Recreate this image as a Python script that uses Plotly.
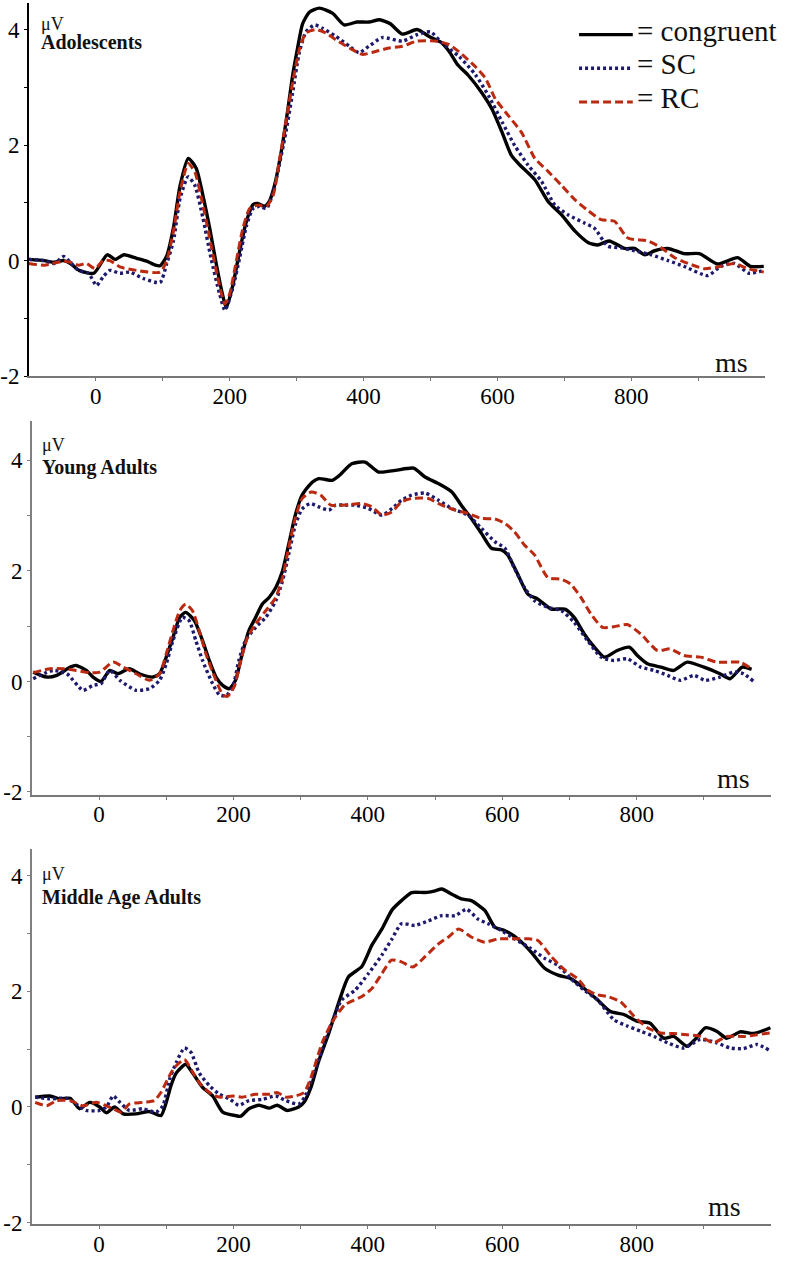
import plotly.graph_objects as go

# ---------------- data (time in ms, amplitude in microvolts) ----------------
# Adolescents
adol_cong_t = [-100, -77, -62, -48, -38, -25, -3, 17, 29, 42, 61, 76, 89, 96, 106, 116, 126, 138, 150, 160, 170, 180, 188, 195, 205, 215, 225, 235, 242, 252, 259, 267, 277, 287, 294, 301, 309, 319, 334, 354, 371, 390, 408, 424, 440, 458, 480, 498, 517, 528, 540, 557, 577, 592, 607, 621, 634, 656, 676, 696, 716, 736, 750, 767, 790, 805, 820, 835, 855, 879, 902, 929, 959, 978, 998]
adol_cong_v = [0.02, 0.0, -0.03, 0.0, -0.05, -0.17, -0.22, 0.1, 0.02, 0.1, 0.04, -0.01, -0.08, -0.09, 0.08, 0.57, 1.3, 1.77, 1.6, 1.13, 0.57, -0.06, -0.52, -0.82, -0.41, 0.17, 0.68, 0.97, 0.99, 0.94, 1.02, 1.3, 1.88, 2.62, 3.2, 3.65, 4.1, 4.3, 4.37, 4.28, 4.08, 4.13, 4.13, 4.17, 4.1, 3.92, 4.0, 3.88, 3.77, 3.62, 3.4, 3.2, 2.9, 2.62, 2.22, 1.82, 1.65, 1.4, 1.02, 0.79, 0.51, 0.31, 0.27, 0.34, 0.21, 0.21, 0.1, 0.17, 0.21, 0.12, 0.12, -0.06, 0.05, -0.1, -0.1]

adol_sc_t = [-100, -77, -62, -48, -38, -26, -11, 1, 11, 21, 36, 51, 71, 96, 106, 116, 126, 138, 148, 160, 172, 185, 193, 205, 215, 225, 235, 245, 255, 265, 274, 284, 294, 304, 314, 327, 339, 359, 379, 393, 408, 428, 458, 480, 500, 517, 543, 567, 587, 607, 626, 646, 666, 686, 706, 730, 745, 765, 785, 805, 830, 855, 879, 914, 934, 954, 976, 998]
adol_sc_v = [0.02, 0.0, -0.05, 0.07, -0.03, -0.17, -0.22, -0.43, -0.28, -0.17, -0.22, -0.2, -0.31, -0.38, -0.05, 0.34, 1.08, 1.45, 1.3, 0.74, 0.05, -0.58, -0.86, -0.46, 0.05, 0.6, 0.9, 0.94, 0.9, 1.18, 1.65, 2.22, 2.9, 3.6, 3.96, 4.08, 4.02, 3.88, 3.71, 3.6, 3.71, 3.86, 3.8, 3.91, 3.96, 3.77, 3.53, 3.22, 2.85, 2.4, 1.99, 1.65, 1.37, 0.96, 0.79, 0.65, 0.56, 0.25, 0.22, 0.17, 0.1, 0.0, -0.1, -0.26, -0.1, -0.05, -0.22, -0.17]

adol_rc_t = [-100, -77, -48, -38, -26, -14, -1, 11, 21, 36, 61, 96, 106, 116, 126, 138, 148, 160, 170, 182, 193, 200, 210, 220, 230, 242, 255, 265, 274, 284, 294, 304, 314, 329, 344, 359, 379, 398, 418, 438, 458, 480, 507, 528, 547, 567, 582, 597, 617, 636, 656, 676, 696, 716, 736, 755, 775, 795, 825, 845, 865, 885, 909, 934, 954, 974, 998]
adol_rc_v = [-0.05, -0.08, -0.01, -0.03, -0.08, -0.05, -0.14, 0.0, 0.0, -0.11, -0.17, -0.2, 0.0, 0.51, 1.2, 1.68, 1.53, 0.96, 0.4, -0.29, -0.75, -0.58, 0.0, 0.57, 0.9, 0.96, 0.94, 1.13, 1.71, 2.4, 3.08, 3.65, 3.94, 4.0, 3.94, 3.82, 3.68, 3.57, 3.62, 3.68, 3.71, 3.8, 3.8, 3.74, 3.57, 3.36, 3.16, 2.8, 2.5, 2.22, 1.77, 1.54, 1.3, 1.05, 0.86, 0.71, 0.68, 0.39, 0.34, 0.22, 0.05, -0.05, -0.14, -0.1, -0.05, -0.14, -0.2]

# Young adults
young_cong_t = [-98, -78, -63, -43, -34, -19, -9, 3, 16, 28, 45, 60, 80, 90, 100, 110, 120, 129, 142, 154, 164, 174, 184, 194, 203, 213, 223, 233, 243, 253, 263, 273, 282, 292, 302, 315, 327, 347, 357, 376, 396, 416, 441, 468, 485, 505, 525, 539, 554, 569, 584, 599, 608, 623, 638, 653, 673, 693, 707, 722, 737, 752, 771, 789, 801, 816, 836, 855, 875, 900, 924, 939, 957, 971]
young_cong_v = [0.17, 0.08, 0.11, 0.26, 0.29, 0.2, 0.08, 0.0, 0.2, 0.14, 0.23, 0.14, 0.08, 0.14, 0.44, 0.8, 1.16, 1.25, 1.1, 0.74, 0.38, 0.08, -0.07, -0.13, 0.02, 0.5, 0.92, 1.16, 1.4, 1.52, 1.7, 2.0, 2.47, 3.01, 3.37, 3.58, 3.67, 3.64, 3.72, 3.94, 3.97, 3.79, 3.82, 3.86, 3.7, 3.58, 3.43, 3.19, 2.95, 2.68, 2.41, 2.38, 2.29, 1.94, 1.58, 1.49, 1.31, 1.31, 1.16, 0.86, 0.62, 0.44, 0.56, 0.62, 0.47, 0.32, 0.26, 0.2, 0.35, 0.26, 0.14, 0.05, 0.26, 0.22]

young_sc_t = [-98, -68, -48, -24, -9, 3, 16, 31, 55, 75, 90, 100, 110, 124, 134, 144, 154, 169, 179, 189, 199, 208, 218, 233, 248, 263, 273, 282, 292, 302, 314, 327, 342, 352, 366, 381, 401, 421, 436, 450, 465, 485, 505, 525, 549, 569, 589, 604, 618, 633, 648, 668, 688, 707, 727, 747, 766, 786, 806, 826, 846, 865, 885, 902, 924, 944, 959, 974]
young_sc_v = [0.05, 0.2, 0.14, -0.16, -0.07, -0.04, 0.2, 0.02, -0.16, -0.13, 0.02, 0.32, 0.74, 1.16, 1.1, 0.74, 0.38, -0.04, -0.24, -0.26, -0.1, 0.38, 0.74, 0.98, 1.16, 1.46, 1.82, 2.29, 2.83, 3.12, 3.22, 3.16, 3.1, 3.19, 3.19, 3.19, 3.13, 3.01, 3.13, 3.28, 3.37, 3.41, 3.28, 3.13, 3.01, 2.77, 2.53, 2.41, 2.05, 1.7, 1.46, 1.34, 1.28, 1.07, 0.74, 0.44, 0.38, 0.41, 0.26, 0.2, 0.11, 0.02, 0.11, 0.02, 0.08, 0.17, 0.14, 0.0]

young_rc_t = [-98, -73, -53, -34, -14, 1, 21, 36, 55, 75, 90, 100, 110, 120, 129, 139, 149, 159, 174, 184, 191, 201, 211, 221, 233, 248, 263, 273, 282, 292, 302, 316, 330, 345, 371, 391, 406, 421, 436, 450, 465, 490, 510, 530, 549, 569, 589, 604, 618, 633, 648, 668, 688, 702, 717, 732, 749, 766, 786, 806, 831, 850, 870, 895, 919, 939, 954, 971]
young_rc_v = [0.16, 0.23, 0.23, 0.2, 0.16, 0.17, 0.35, 0.26, 0.14, 0.02, 0.14, 0.5, 0.92, 1.28, 1.4, 1.28, 0.92, 0.5, 0.02, -0.24, -0.27, -0.1, 0.38, 0.8, 1.04, 1.28, 1.52, 1.88, 2.41, 2.95, 3.31, 3.43, 3.37, 3.19, 3.2, 3.22, 3.16, 3.01, 3.07, 3.25, 3.31, 3.31, 3.19, 3.1, 3.04, 2.95, 2.94, 2.86, 2.71, 2.47, 2.29, 1.88, 1.85, 1.76, 1.52, 1.22, 0.98, 0.99, 1.03, 0.86, 0.56, 0.59, 0.47, 0.44, 0.35, 0.35, 0.35, 0.23]

# Middle age adults
mid_cong_t = [-95, -73, -58, -43, -29, -14, 1, 11, 23, 36, 55, 75, 92, 100, 107, 115, 129, 139, 154, 169, 184, 203, 211, 223, 238, 253, 265, 280, 297, 305, 315, 327, 342, 357, 371, 391, 406, 421, 436, 450, 465, 485, 500, 510, 525, 539, 554, 574, 589, 604, 623, 643, 663, 683, 702, 722, 742, 761, 781, 801, 820, 840, 855, 875, 887, 902, 919, 934, 954, 974, 999]
mid_cong_v = [0.17, 0.19, 0.14, 0.15, -0.03, 0.08, 0.0, -0.1, 0.0, -0.12, -0.12, -0.08, -0.15, 0.08, 0.37, 0.59, 0.74, 0.59, 0.34, 0.19, -0.09, -0.15, -0.16, -0.03, 0.03, -0.02, 0.03, -0.06, 0.0, 0.08, 0.33, 0.8, 1.28, 1.82, 2.25, 2.43, 2.8, 3.08, 3.41, 3.57, 3.71, 3.71, 3.74, 3.77, 3.68, 3.6, 3.57, 3.4, 3.11, 3.05, 2.91, 2.68, 2.4, 2.28, 2.22, 2.05, 1.85, 1.65, 1.6, 1.48, 1.45, 1.19, 1.22, 1.05, 1.17, 1.37, 1.31, 1.19, 1.3, 1.27, 1.37]

mid_sc_t = [-95, -73, -48, -34, -19, 1, 11, 21, 31, 45, 65, 85, 95, 105, 115, 127, 137, 149, 164, 179, 194, 208, 223, 243, 263, 278, 297, 307, 320, 332, 346, 361, 381, 401, 421, 436, 450, 470, 490, 510, 530, 547, 564, 579, 599, 618, 643, 663, 683, 702, 722, 742, 766, 786, 806, 826, 846, 870, 895, 919, 939, 959, 979, 999]
mid_sc_v = [0.17, 0.14, 0.15, 0.05, -0.06, -0.06, 0.0, 0.19, 0.08, -0.06, -0.03, -0.09, 0.02, 0.48, 0.77, 1.02, 0.94, 0.59, 0.37, 0.22, 0.14, 0.03, 0.11, 0.13, 0.19, 0.11, 0.05, 0.19, 0.59, 0.99, 1.45, 1.85, 2.02, 2.31, 2.63, 2.91, 3.17, 3.14, 3.22, 3.31, 3.31, 3.42, 3.25, 3.17, 3.05, 2.91, 2.74, 2.57, 2.45, 2.22, 2.02, 1.85, 1.51, 1.4, 1.31, 1.22, 1.11, 1.02, 1.17, 1.11, 1.02, 1.01, 1.08, 0.97]

mid_rc_t = [-95, -78, -63, -43, -24, -4, 11, 21, 33, 45, 65, 82, 92, 102, 112, 127, 137, 149, 164, 179, 199, 213, 233, 253, 265, 278, 292, 305, 315, 332, 346, 366, 391, 406, 421, 435, 450, 467, 485, 505, 520, 535, 554, 574, 594, 613, 638, 653, 673, 693, 712, 727, 742, 757, 776, 796, 816, 836, 855, 875, 895, 914, 934, 959, 979, 999]
mid_rc_v = [0.08, 0.02, 0.11, 0.11, 0.02, 0.08, 0.02, -0.03, -0.09, 0.05, 0.08, 0.11, 0.25, 0.48, 0.68, 0.82, 0.65, 0.42, 0.25, 0.17, 0.19, 0.17, 0.22, 0.22, 0.25, 0.17, 0.19, 0.25, 0.5, 1.11, 1.45, 1.77, 1.91, 2.05, 2.31, 2.54, 2.51, 2.42, 2.6, 2.82, 2.94, 3.08, 2.94, 2.85, 2.91, 2.91, 2.91, 2.88, 2.6, 2.37, 2.22, 2.02, 1.94, 1.91, 1.82, 1.57, 1.37, 1.28, 1.27, 1.25, 1.22, 1.11, 1.22, 1.22, 1.25, 1.28]

group_labels = ["Adolescents", "Young Adults", "Middle Age Adults"]
condition_names = ["= congruent", "= SC", "= RC"]
x_tick_vals = [0, 100, 200, 300, 400, 500, 600, 700, 800, 900]
x_tick_text = ["0", "", "200", "", "400", "", "600", "", "800", ""]
y_tick_vals = [-2, -1, 0, 1, 2, 3, 4]
y_tick_text = ["-2", "", "0", "", "2", "", "4"]

# ---------------- styling ----------------
W, H = 787, 1265
SERIF = "Liberation Serif, Times New Roman, serif"
COL_CONG = "#000000"
COL_SC = "#1d1a6e"
COL_RC = "#bb2a10"
styles = [
    dict(color=COL_CONG, width=3.4, dash="solid"),
    dict(color=COL_SC, width=3.4, dash="3px,3px"),
    dict(color=COL_RC, width=3.0, dash="8px,4px"),
]

def px_x(p):
    return p / W

def px_y(p):
    return 1 - p / H

panels = [
    dict(series=[(adol_cong_t, adol_cong_v), (adol_sc_t, adol_sc_v), (adol_rc_t, adol_rc_v)],
         xdom=(25, 765), ydom=(3, 380), yr=(-2.0, 4.46), ycol="#000000",
         uv=24, lab=42, labx=35, ms=(750, 366)),
    dict(series=[(young_cong_t, young_cong_v), (young_sc_t, young_sc_v), (young_rc_t, young_rc_v)],
         xdom=(28, 771), ydom=(425, 803), yr=(-2.05, 4.72), ycol="#808080",
         uv=450, lab=472, labx=36, ms=(752, 787)),
    dict(series=[(mid_cong_t, mid_cong_v), (mid_sc_t, mid_sc_v), (mid_rc_t, mid_rc_v)],
         xdom=(28, 771), ydom=(858, 1237), yr=(-2.03, 4.46), ycol="#808080",
         uv=883, lab=907, labx=36, ms=(743, 1219)),
]

fig = go.Figure()
annotations = []
shapes = []
layout_axes = {}

for i, p in enumerate(panels):
    n = "" if i == 0 else str(i + 1)
    xa, ya = "x" + n, "y" + n
    for (t, v), st in zip(p["series"], styles):
        fig.add_trace(go.Scatter(
            x=t, y=v, mode="lines", xaxis=xa, yaxis=ya,
            line=dict(color=st["color"], width=st["width"], dash=st["dash"],
                      shape="spline", smoothing=0.6),
            showlegend=False, hoverinfo="skip"))
    layout_axes["xaxis" + n] = dict(
        domain=[px_x(p["xdom"][0]), px_x(p["xdom"][1])], range=[-100, 1000],
        anchor=ya, showline=True, linecolor="#777777", linewidth=2,
        ticks="outside", ticklen=3, tickwidth=1, tickcolor="#777777",
        tickmode="array", tickvals=x_tick_vals, ticktext=x_tick_text,
        ticklabelstandoff=-5,
        tickfont=dict(family=SERIF, size=23, color="#000000"),
        showgrid=False, zeroline=False, fixedrange=True)
    layout_axes["yaxis" + n] = dict(
        domain=[px_y(p["ydom"][1]), px_y(p["ydom"][0])], range=list(p["yr"]),
        anchor=xa, showline=True, linecolor=p["ycol"], linewidth=1.5,
        ticks="outside", ticklen=3, tickwidth=1, tickcolor=p["ycol"],
        tickmode="array", tickvals=y_tick_vals, ticktext=y_tick_text,
        tickfont=dict(family=SERIF, size=23, color="#000000"),
        showgrid=False, zeroline=False, fixedrange=True)
    annotations.append(dict(text="\u03bcV", x=px_x(p["labx"]), y=px_y(p["uv"]),
                            xref="paper", yref="paper", xanchor="left", yanchor="middle",
                            showarrow=False, font=dict(family=SERIF, size=18, color="#111111")))
    annotations.append(dict(text="<b>" + group_labels[i] + "</b>", x=px_x(p["labx"]), y=px_y(p["lab"]),
                            xref="paper", yref="paper", xanchor="left", yanchor="middle",
                            showarrow=False, font=dict(family=SERIF, size=20, color="#111111")))
    annotations.append(dict(text="ms", x=px_x(p["ms"][0]), y=px_y(p["ms"][1]),
                            xref="paper", yref="paper", xanchor="right", yanchor="middle",
                            showarrow=False, font=dict(family=SERIF, size=28, color="#111111")))

# legend (top-right of first panel)
leg_rows = [35, 69, 103]
for name, st, row in zip(condition_names, styles, leg_rows):
    shapes.append(dict(type="line", xref="paper", yref="paper",
                       x0=px_x(578), x1=px_x(632), y0=px_y(row), y1=px_y(row),
                       line=dict(color=st["color"], width=st["width"], dash=st["dash"])))
    annotations.append(dict(text=name, x=px_x(634), y=px_y(row - 4),
                            xref="paper", yref="paper", xanchor="left", yanchor="middle",
                            showarrow=False, font=dict(family=SERIF, size=29, color="#111111")))

fig.update_layout(
    width=W, height=H,
    margin=dict(l=0, r=0, t=0, b=0),
    paper_bgcolor="white", plot_bgcolor="white",
    font=dict(family=SERIF, color="#000000"),
    showlegend=False,
    annotations=annotations, shapes=shapes,
    **layout_axes)

fig.write_html("out.html", config={"displayModeBar": False},
               post_script="document.body.style.margin='0px';document.body.style.overflow='hidden';")
